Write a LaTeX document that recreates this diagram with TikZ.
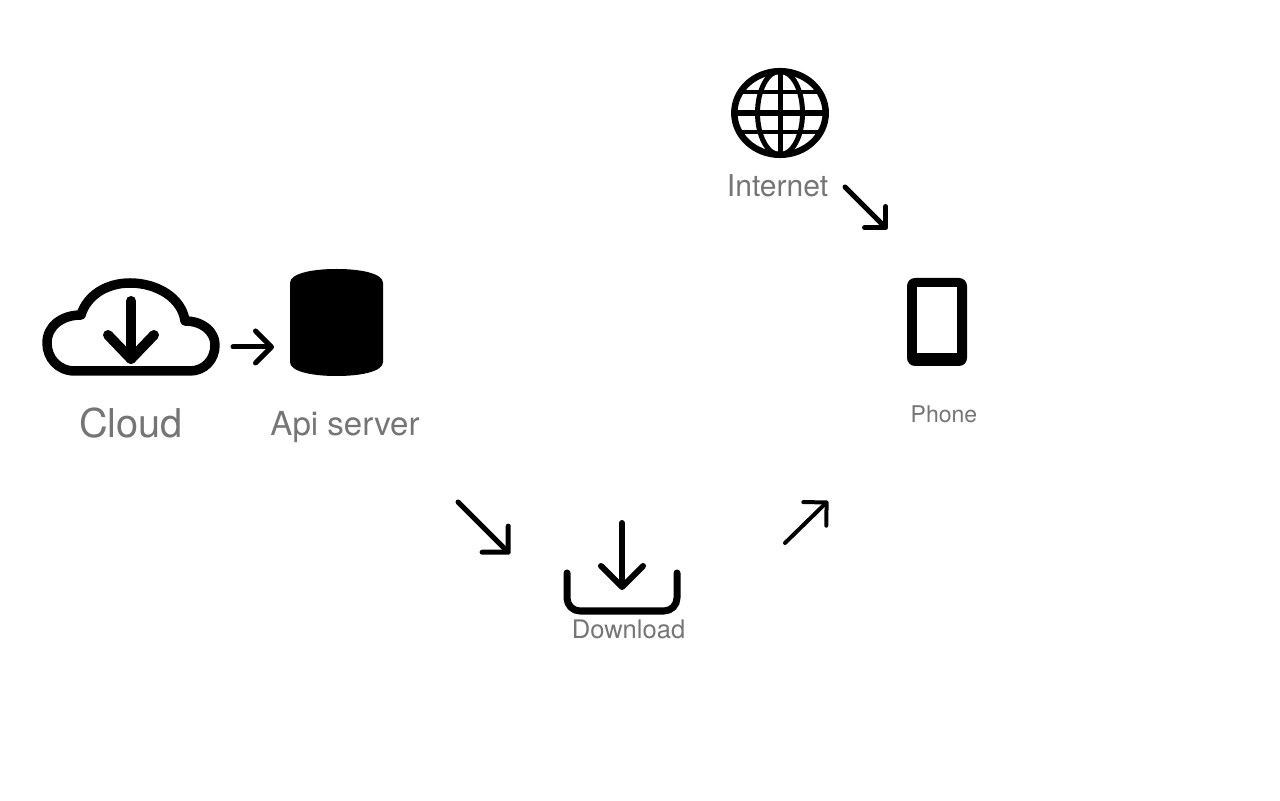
\documentclass[tikz,border=0pt]{standalone}
\usepackage{xcolor}
\usepackage{fontspec}
\setmainfont{TeX Gyre Heros}
\usetikzlibrary{arrows.meta}
\definecolor{IconBlack}{HTML}{000000}
\definecolor{LabelGray}{HTML}{757575}
\tikzset{
  icon/.style={draw=IconBlack,line cap=round,line join=round},
  label/.style={anchor=base,text=LabelGray,inner sep=0pt},
  flow/.style 2 args={icon,line width=#1,-{Straight Barb[length=#2,width=2*#2,round]}}
}

\begin{document}
\begin{tikzpicture}[x=1cm,y=1cm]
\path[use as bounding box] (0,0) rectangle (12.80,8.00);
% cloud
\draw[icon,line width=0.095cm] (0.75,4.29) .. controls (0.58,4.29) and (0.47,4.42) .. (0.47,4.57)
  .. controls (0.47,4.74) and (0.62,4.85) .. (0.81,4.85)
  .. controls (0.87,5.05) and (1.07,5.17) .. (1.30,5.17)
  .. controls (1.57,5.17) and (1.82,5.02) .. (1.85,4.79)
  .. controls (2.03,4.79) and (2.15,4.68) .. (2.15,4.55)
  .. controls (2.15,4.40) and (2.04,4.29) .. (1.90,4.29) -- cycle;
\draw[icon,line width=0.10cm] (1.31,4.99) -- (1.31,4.41);
\draw[icon,line width=0.10cm] (1.08,4.65) -- (1.31,4.41) -- (1.54,4.65);
\node[label,font=\fontsize{11.3}{13}\selectfont] (cloud) at (1.31,3.62) {Cloud};
% api server
\fill[IconBlack] (2.90,5.17) .. controls (2.90,5.26) and (3.10,5.31) .. (3.365,5.31)
  .. controls (3.63,5.31) and (3.83,5.26) .. (3.83,5.17)
  -- (3.83,4.38) .. controls (3.83,4.29) and (3.63,4.24) .. (3.365,4.24)
  .. controls (3.10,4.24) and (2.90,4.29) .. (2.90,4.38) -- cycle;
\node[label,font=\fontsize{9.4}{11}\selectfont] (server) at (3.45,3.64) {Api server};
% internet
\draw[icon,line width=0.065cm] (7.80,6.87) ellipse (0.457cm and 0.418cm);
\draw[icon,line width=0.05cm] (7.80,6.87) ellipse (0.225cm and 0.418cm);
\draw[icon,line width=0.05cm] (7.80,7.288) -- (7.80,6.452);
\draw[icon,line width=0.055cm] (7.343,6.87) -- (8.257,6.87);
\draw[icon,line width=0.045cm] (7.41,7.08) -- (8.19,7.08);
\draw[icon,line width=0.045cm] (7.41,6.68) -- (8.19,6.68);
\node[label,font=\fontsize{8.55}{10}\selectfont] (internet) at (7.775,6.03) {Internet};
% phone
\fill[IconBlack,rounded corners=0.08cm] (9.07,4.34) rectangle (9.67,5.22);
\fill[white] (9.17,4.47) rectangle (9.57,5.13);
\node[label,font=\fontsize{6.55}{8}\selectfont] (phone) at (9.44,3.77) {Phone};
% download
\draw[icon,line width=0.07cm,rounded corners=0.13cm] (5.67,2.27) -- (5.67,1.89) -- (6.77,1.89) -- (6.77,2.27);
\coordinate (dlTop) at (6.22,2.77);
\coordinate (dlTip) at (6.22,2.10);
\draw[flow={0.06cm}{0.21cm}] (dlTop) -- (dlTip);
\node[label,font=\fontsize{7.27}{9}\selectfont] (download) at (6.285,1.615) {Download};
% arrows
\coordinate (cloudOut) at (2.33,4.53);
\coordinate (serverIn) at (2.74,4.53);
\draw[flow={0.05cm}{0.16cm}] (cloudOut) -- (serverIn);
\coordinate (serverOut) at (4.58,2.98);
\coordinate (downloadIn) at (5.10,2.46);
\draw[flow={0.05cm}{0.185cm}] (serverOut) -- (downloadIn);
\coordinate (downloadOut) at (7.85,2.57);
\coordinate (phoneIn) at (8.28,2.99);
\draw[flow={0.04cm}{0.165cm}] (downloadOut) -- (phoneIn);
\coordinate (internetOut) at (8.45,6.13);
\coordinate (phoneTop) at (8.875,5.705);
\draw[flow={0.05cm}{0.15cm}] (internetOut) -- (phoneTop);
\end{tikzpicture}
\end{document}
